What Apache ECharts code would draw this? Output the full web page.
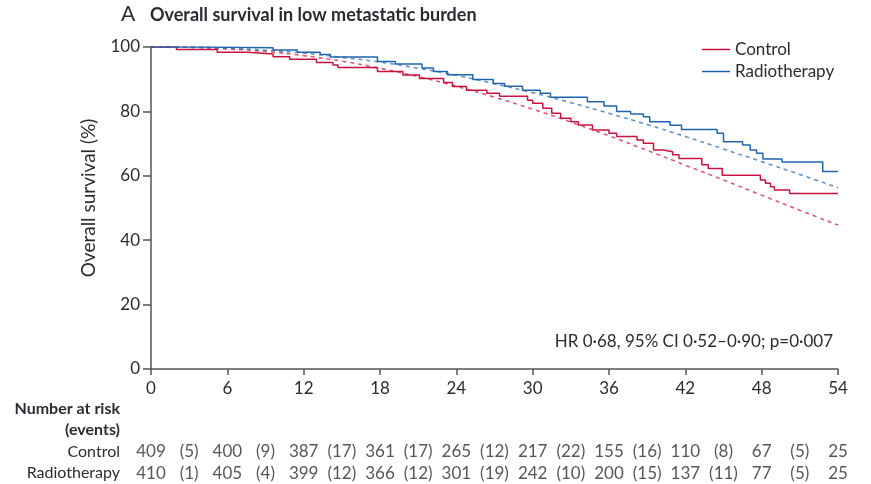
<!DOCTYPE html>
<html><head><meta charset="utf-8">
<script src="https://cdn.jsdelivr.net/npm/echarts@6/dist/echarts.min.js"></script>
<style>html,body{margin:0;padding:0;background:#fff}#c{width:871px;height:484px}</style>
</head><body><div id="c"></div>
<script>
// ---- data ----
const xTicks = [0, 6, 12, 18, 24, 30, 36, 42, 48, 54];
const yTicks = [0, 20, 40, 60, 80, 100];

// Kaplan-Meier steps: [month, survival % after the drop]
const controlKM = [[0,100],[2,99.2],[5.2,98.4],[7.6,97.8],[9.6,97.0],[10.9,96.2],[13,95.2],[14.3,94.4],[14.7,93.6],[17.8,92.4],[19.8,91.3],[21.1,90.2],[23,89.0],[23.7,87.7],[24.8,86.6],[26.4,85.6],[27.4,84.7],[29.6,83.5],[30,82.5],[30.8,81.0],[31.5,79.4],[32.2,77.9],[33,76.8],[33.6,75.8],[34.7,74.2],[36,73.2],[36.6,72.2],[38.2,71.1],[38.7,70.1],[39.5,68.0],[40.3,67.5],[41,66.5],[41.5,65.4],[43.3,63.4],[43.8,62.3],[44.9,60.2],[47.9,58.7],[48.3,57.7],[48.7,56.6],[49,55.6],[50.2,54.5],[54,54.5]];
const radioKM = [[0,100],[4,99.8],[9.6,99.1],[11.5,98.4],[13.3,97.7],[14.1,96.9],[17.8,95.5],[19.2,94.7],[21.3,93.5],[22.2,92.4],[23.3,91.4],[25.3,89.9],[26.9,88.7],[27.8,87.8],[29.2,86.6],[30.6,85.6],[31.4,84.4],[34.3,83.0],[35.6,81.7],[36.6,80.0],[37.7,79.2],[38.7,78.3],[39.2,76.8],[40.8,75.7],[41.7,74.4],[44.5,73.2],[45,70.6],[46.5,69.6],[47.1,68.0],[47.6,67.0],[48.1,65.2],[49.6,64.3],[52.8,61.3],[54,61.3]];

// Fitted (dashed) curves
const fitMonths = [0,3,6,9,12,15,18,21,24,27,30,33,36,39,42,45,48,51,54];
const controlFit = [100,99.9,99.4,98.6,97.3,95.6,93.4,90.8,87.8,84.4,80.7,76.7,72.4,67.9,63.3,58.7,54.0,49.3,44.7];
const radioFit   = [100,99.9,99.6,99.0,98.1,96.8,95.3,93.4,91.2,88.6,85.8,82.7,79.4,75.9,72.2,68.3,64.4,60.4,56.3];

// Number at risk table
const riskMonths = [0, 6, 12, 18, 24, 30, 36, 42, 48, 54];
const controlRisk = [409, 400, 387, 361, 265, 217, 155, 110, 67, 25];
const radioRisk   = [410, 405, 399, 366, 301, 242, 200, 137, 77, 25];
const eventMonths = [3, 9, 15, 21, 27, 33, 39, 45, 51];
const controlEvents = [5, 9, 17, 17, 12, 22, 16, 8, 5];
const radioEvents   = [1, 4, 12, 12, 19, 10, 15, 11, 5];
const tableRows = ['Number at risk', '(events)', 'Control', 'Radiotherapy'];

const titleLetter = 'A';
const titleText = 'Overall survival in low metastatic burden';
const yName = 'Overall survival (%)';
const hrText = 'HR 0·68, 95% CI 0·52–0·90; p=0·007';

// ---- styles ----
const FONT = 'Lato';
const TXT = '#2b2b33';
const RED = '#c8123f';
const BLUE = '#1e64b0';

const chart = echarts.init(document.getElementById('c'), null, {renderer: 'canvas'});

function tableData(months, vals, row, paren) {
  return months.map((m, i) => ({value: [m, row, paren ? '(' + vals[i] + ')' : String(vals[i])]}));
}
const tableSeriesBase = {
  type: 'scatter', xAxisIndex: 1, yAxisIndex: 1, symbolSize: 0, silent: true,
  label: {show: true, position: 'inside', formatter: p => p.value[2], color: TXT, fontFamily: FONT, fontSize: 17}
};

chart.setOption({
  animation: false,
  backgroundColor: '#fff',
  textStyle: {fontFamily: FONT},
  grid: [
    {left: 151, right: 33, top: 47, height: 322},
    {left: 151, right: 33, top: 398, height: 86}
  ],
  xAxis: [
    {type: 'value', gridIndex: 0, min: 0, max: 54, interval: 6,
     axisLine: {lineStyle: {color: '#555', width: 1.5}},
     axisTick: {show: true, length: 6, lineStyle: {color: '#555', width: 1.5}},
     axisLabel: {color: TXT, fontSize: 17, margin: 11, fontFamily: FONT},
     splitLine: {show: false}},
    {type: 'value', gridIndex: 1, min: 0, max: 54, show: false}
  ],
  yAxis: [
    {type: 'value', gridIndex: 0, min: 0, max: 100, interval: 20,
     axisLine: {show: true, lineStyle: {color: '#555', width: 1.5}},
     axisTick: {show: true, length: 8, lineStyle: {color: '#555', width: 1.5}},
     axisLabel: {color: TXT, fontSize: 17, margin: 11, fontFamily: FONT},
     splitLine: {show: false}},
    {type: 'category', gridIndex: 1, data: tableRows, inverse: true,
     axisLine: {show: false}, axisTick: {show: false},
     axisLabel: {margin: 31, fontSize: 16, color: TXT, fontFamily: FONT,
       formatter: (v, i) => i < 2 ? '{b|' + v + '}' : v,
       rich: {b: {fontWeight: 'bold', fontSize: 16, color: TXT, fontFamily: FONT}}}}
  ],
  legend: {
    orient: 'vertical', left: 697, top: 36, itemGap: 5,
    icon: 'rect', itemWidth: 28, itemHeight: 1.5,
    textStyle: {fontSize: 17, color: TXT, fontFamily: FONT},
    data: ['Control', 'Radiotherapy']
  },
  graphic: [
    {type: 'text', left: 121, top: 4, style: {text: titleLetter, fontSize: 21, fill: TXT, fontFamily: FONT}},
    {type: 'text', left: 150, top: 6, style: {text: titleText, fontSize: 18, fontWeight: 'bold', fill: TXT, fontFamily: FONT}},
    {type: 'text', x: 89, y: 198, rotation: Math.PI / 2,
     style: {text: yName, fontSize: 19, fill: TXT, fontFamily: FONT, align: 'center', verticalAlign: 'middle'}},
    {type: 'text', right: 38, top: 333, style: {text: hrText, fontSize: 17, fill: TXT, fontFamily: FONT}}
  ],
  series: [
    {name: 'Control fit', type: 'line', data: fitMonths.map((m, i) => [m, controlFit[i]]), smooth: true,
     showSymbol: false, silent: true, lineStyle: {color: RED, width: 1.6, type: [4, 4], opacity: 0.7}, z: 1},
    {name: 'Radiotherapy fit', type: 'line', data: fitMonths.map((m, i) => [m, radioFit[i]]), smooth: true,
     showSymbol: false, silent: true, lineStyle: {color: BLUE, width: 1.6, type: [4, 4], opacity: 0.7}, z: 1},
    {name: 'Control', type: 'line', step: 'end', data: controlKM, showSymbol: false,
     itemStyle: {color: RED}, lineStyle: {color: RED, width: 1.5}, z: 3},
    {name: 'Radiotherapy', type: 'line', step: 'end', data: radioKM, showSymbol: false,
     itemStyle: {color: BLUE}, lineStyle: {color: BLUE, width: 1.5}, z: 3},
    Object.assign({}, tableSeriesBase, {data: tableData(riskMonths, controlRisk, 'Control', false)}),
    Object.assign({}, tableSeriesBase, {data: tableData(eventMonths, controlEvents, 'Control', true)}),
    Object.assign({}, tableSeriesBase, {data: tableData(riskMonths, radioRisk, 'Radiotherapy', false)}),
    Object.assign({}, tableSeriesBase, {data: tableData(eventMonths, radioEvents, 'Radiotherapy', true)})
  ]
});
</script></body></html>
